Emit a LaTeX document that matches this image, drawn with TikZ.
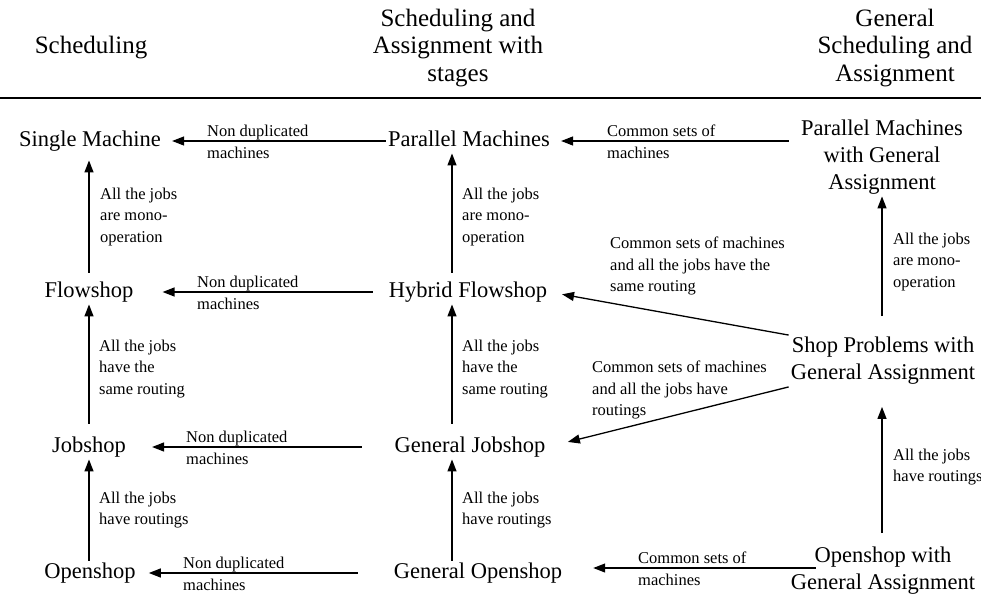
\documentclass[tikz,border=0pt]{standalone}
\usepackage{fontspec}
\setmainfont{Liberation Serif}
\usetikzlibrary{arrows.meta}

\begin{document}
\begin{tikzpicture}[
  x=1pt, y=-1pt,
  >={Triangle[length=12pt,width=9pt]},
  colhead/.style={font=\fontsize{25}{27.5}\selectfont, align=center,
                  inner sep=0pt},
  cls/.style={font=\fontsize{22.5}{27}\selectfont, inner sep=2pt,
              text height=15.5pt, text depth=5pt},
  clsm/.style={font=\fontsize{22.5}{27}\selectfont, align=center,
               inner sep=2pt},
  lbl/.style={font=\fontsize{16.5}{21.5}\selectfont, align=left,
              anchor=west, inner sep=0pt},
  arr/.style={->, line width=1.3pt}
]
\useasboundingbox (0,0) rectangle (981,599);

% ===== column x =====
\coordinate (cA) at (89,0);    % scheduling arrows
\coordinate (cB) at (452,0);   % stages arrows
\coordinate (cC) at (882,0);   % general assignment arrows

% ===== column heads =====
\node[colhead] (HA) at (91,48) {Scheduling};
\node[colhead] (HB) at (458,48) {Scheduling and\\Assignment with\\stages};
\node[colhead] (HC) at (895,48) {General\\Scheduling and\\Assignment};
\draw[line width=2.5pt] (0,98) -- (981,98);

% ===== scheduling =====
\node[cls] (sm) at (90,141) {Single Machine};
\node[cls] (fs) at (89,292) {Flowshop};
\node[cls] (js) at (89,447) {Jobshop};
\node[cls] (os) at (90,573) {Openshop};

% ===== with stages =====
\node[cls] (pm) at (469,141) {Parallel Machines};
\node[cls] (hf) at (468,292) {Hybrid Flowshop};
\node[cls] (gj) at (470,447) {General Jobshop};
\node[cls] (go) at (478,573) {General Openshop};

% ===== general assignment =====
\node[clsm] (pmg) at (882,157) {Parallel Machines\\with General\\Assignment};
\node[clsm] (spg) at (883,361) {Shop Problems with\\General Assignment};
\node[clsm] (osg) at (883,571) {Openshop with\\General Assignment};

% ===== vertical arrows =====
\draw[arr, shorten <=7pt, shorten >=7pt] (fs.north -| cA) -- (sm.south -| cA);
\draw[arr, shorten <=11pt] (js.north -| cA) -- (fs.south -| cA);
\draw[arr] (os.north -| cA) -- (js.south -| cA);
\node[lbl] (l5) at (100,217) {All the jobs\\are mono-\\operation};
\node[lbl] (l6) at (99,369) {All the jobs\\have the\\same routing};
\node[lbl] (l7) at (99,510) {All the jobs\\have routings};

\draw[arr, shorten <=7pt] (hf.north -| cB) -- (pm.south -| cB);
\draw[arr, shorten <=11pt] (gj.north -| cB) -- (hf.south -| cB);
\draw[arr] (go.north -| cB) -- (gj.south -| cB);
\node[lbl] (l8) at (462,217) {All the jobs\\are mono-\\operation};
\node[lbl] (l9) at (462,369) {All the jobs\\have the\\same routing};
\node[lbl] (l10) at (462,510) {All the jobs\\have routings};

\draw[arr, shorten <=19pt] (spg.north -| cC) -- (pmg.south -| cC);
\draw[arr, shorten <=12pt, shorten >=20pt] (osg.north -| cC) -- (spg.south -| cC);
\node[lbl] (l15) at (893,262) {All the jobs\\are mono-\\operation};
\node[lbl] (l16) at (893,467) {All the jobs\\have routings};

% ===== stages -> scheduling =====
\draw[arr, shorten >=9pt] (pm.west) -- (sm.east);
\draw[arr, shorten <=14pt, shorten >=27pt] (hf.west) -- (fs.east);
\draw[arr, shorten <=31pt, shorten >=24pt] (gj.west) -- (js.east);
\draw[arr, shorten <=34pt, shorten >=11pt] (go.west) -- (os.east);
\node[lbl] (l1) at (207,142) {Non duplicated\\machines};
\node[lbl] (l2) at (197,293) {Non duplicated\\machines};
\node[lbl] (l3) at (186,448) {Non duplicated\\machines};
\node[lbl] (l4) at (183,574) {Non duplicated\\machines};

% ===== general -> stages =====
\draw[arr, shorten <=10pt, shorten >=9pt] (pmg.west |- pm.east) -- (pm.east);
\draw[arr, shorten >=13pt] (spg.north west) -- (hf.east);
\draw[arr, shorten >=21pt] (spg.south west) -- (gj.east);
\draw[arr, shorten >=29pt] ([shift={(27pt,3pt)}]osg.west) -- ([yshift=5pt]go.east);
\node[lbl] (l11) at (607,142) {Common sets of\\machines};
\node[lbl] (l12) at (610,266) {Common sets of machines\\and all the jobs have the\\same routing};
\node[lbl] (l13) at (592,390) {Common sets of machines\\and all the jobs have\\routings};
\node[lbl] (l14) at (638,569) {Common sets of\\machines};

\end{tikzpicture}
\end{document}
